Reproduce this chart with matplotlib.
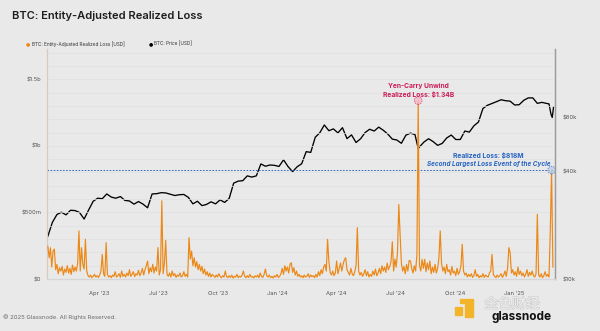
import numpy as np
import pandas as pd
import matplotlib
matplotlib.use("Agg")
import matplotlib.pyplot as plt
import matplotlib.dates as mdates
import matplotlib.patheffects as pe
from matplotlib.patches import Rectangle
from matplotlib.ticker import FixedLocator, FuncFormatter, NullLocator, MultipleLocator

# ---- data -------------------------------------------------------------
# Entity-adjusted realized loss, USD millions, one value every 2 days
loss_start = "2023-01-11"
loss_musd = [
    245, 160, 235, 90, 210, 225, 70, 110, 40, 85,
    60, 95, 30, 75, 50, 100, 45, 80, 35, 105,
    55, 90, 60, 120, 361, 60, 235, 110, 75, 298,
    60, 25, 15, 30, 10, 20, 35, 15, 25, 12,
    30, 60, 185, 40, 20, 273, 35, 15, 25, 10,
    30, 20, 55, 15, 25, 40, 12, 60, 20, 35,
    15, 45, 25, 70, 20, 35, 55, 18, 40, 30,
    65, 25, 45, 80, 30, 70, 100, 135, 40, 85,
    55, 110, 45, 90, 60, 236, 30, 70, 587, 40,
    120, 290, 35, 20, 45, 15, 60, 25, 40, 12,
    30, 20, 45, 15, 25, 55, 20, 35, 15, 311,
    150, 210, 100, 160, 90, 130, 70, 110, 60, 95,
    40, 75, 30, 55, 20, 45, 15, 35, 25, 12,
    30, 15, 40, 20, 10, 25, 15, 60, 20, 10,
    25, 12, 30, 8, 20, 15, 35, 10, 22, 15,
    30, 60, 20, 10, 25, 12, 35, 15, 20, 8,
    25, 15, 30, 10, 45, 20, 12, 35, 75, 25,
    15, 30, 10, 20, 8, 25, 15, 35, 12, 20,
    40, 80, 35, 100, 60, 90, 45, 110, 123, 50,
    85, 30, 60, 20, 35, 15, 25, 10, 30, 15,
    20, 40, 12, 30, 18, 25, 10, 35, 15, 55,
    25, 70, 40, 90, 110, 60, 298, 135, 50, 30,
    60, 25, 45, 135, 40, 80, 120, 60, 110, 145,
    160, 70, 50, 30, 80, 40, 25, 55, 100, 386,
    60, 30, 50, 20, 40, 70, 25, 55, 15, 35,
    20, 60, 30, 75, 25, 45, 80, 40, 100, 60,
    90, 50, 120, 70, 95, 130, 280, 60, 150, 90,
    200, 560, 336, 120, 60, 95, 40, 110, 60, 140,
    135, 80, 45, 100, 60, 180, 1340, 100, 60, 148,
    80, 148, 55, 120, 70, 135, 40, 90, 50, 110,
    45, 80, 160, 361, 120, 60, 90, 40, 110, 55,
    70, 30, 95, 45, 60, 25, 80, 35, 55, 100,
    261, 60, 30, 45, 15, 35, 20, 40, 12, 25,
    70, 20, 35, 10, 25, 15, 40, 12, 30, 20,
    15, 45, 60, 185, 35, 20, 10, 30, 15, 25,
    40, 12, 30, 60, 20, 80, 236, 198, 45, 70,
    30, 55, 20, 90, 35, 60, 25, 45, 15, 35,
    70, 20, 50, 30, 60, 25, 15, 40, 486, 30,
    15, 40, 10, 25, 55, 20, 35, 15, 360, 818,
    90,
]

# BTC price, USD thousands, weekly from 2023-01-11
price_start = "2023-01-11"
price_weekly_kusd = [
    17.4, 20.8, 23.0, 23.7, 22.9, 24.3, 24.2, 23.6, 21.7, 24.4,
    27.3, 28.4, 28.2, 30.0, 28.8, 28.4, 29.0, 27.6, 27.4, 26.3,
    27.2, 26.3, 25.1, 30.0, 30.1, 30.5, 30.4, 29.9, 29.4, 29.7,
    29.8, 28.7, 26.4, 27.3, 25.8, 26.2, 27.1, 26.4, 27.8, 26.9,
    28.3, 34.5, 35.4, 35.6, 37.9, 37.3, 37.9, 44.2, 42.9, 43.6,
    43.4, 42.8, 46.6, 42.7, 40.0, 42.6, 44.3, 51.8, 51.3, 62.4,
    66.1, 73.1, 67.9, 69.5, 66.0, 70.6, 61.3, 64.3, 58.3, 61.2,
    66.3, 69.2, 67.6, 71.1, 68.3, 65.0, 60.9, 60.2, 57.7, 64.1,
    65.8, 64.6, 55.1, 58.7, 61.2, 59.0, 56.2, 57.6, 61.8, 64.2,
    60.6, 60.6, 67.6, 66.7, 72.3, 75.9, 90.5, 94.3, 96.5, 98.8,
    101.2, 100.0, 99.4, 94.6, 95.0, 100.5, 103.7, 103.7, 96.6, 97.9,
    96.6, 84.3,
]
price_extra_dates = ["2024-08-05", "2025-02-23", "2025-02-28", "2025-03-02"]
price_extra_kusd = [54.0, 96.0, 80.5, 92.0]

x_tick_dates = ["2023-04-01", "2023-07-01", "2023-10-01", "2024-01-01",
                "2024-04-01", "2024-07-01", "2024-10-01", "2025-01-01"]
x_tick_labels = ["Apr '23", "Jul '23", "Oct '23", "Jan '24",
                 "Apr '24", "Jul '24", "Oct '24", "Jan '25"]
loss_ticks = [0, 500, 1000, 1500]
loss_tick_labels = ["$0", "$500m", "$1b", "$1.5b"]
price_ticks = [10, 40, 80]
price_tick_labels = ["$10k", "$40k", "$80k"]

# ---- series -----------------------------------------------------------
loss = pd.Series(loss_musd,
                 index=pd.date_range(loss_start, periods=len(loss_musd), freq="2D"))
price = pd.concat([
    pd.Series(price_weekly_kusd,
              index=pd.date_range(price_start, periods=len(price_weekly_kusd), freq="7D")),
    pd.Series(price_extra_kusd, index=pd.to_datetime(price_extra_dates)),
]).sort_index()

# ---- style ------------------------------------------------------------
BG = "#e9e9e9"
ORANGE = "#ec8816"
BLUE = "#2463c2"
CRIMSON = "#cc1d57"
TXT = "#555555"
plt.rcParams["font.family"] = ["Inter", "DejaVu Sans"]

fig = plt.figure(figsize=(6.0, 3.31), dpi=100, facecolor=BG)
ax2 = fig.add_axes([0.0787, 0.157, 0.846, 0.695])   # price (log, right)
ax = ax2.twinx()                                      # loss (linear, left)
ax.yaxis.tick_left()
ax.yaxis.set_label_position("left")
ax2.yaxis.tick_right()
ax2.set_facecolor(BG)
ax.patch.set_visible(False)

# price
ax2.plot(price.index, price.values, color="black", lw=0.95, zorder=3)
ax2.set_yscale("log")
ax2.set_ylim(10, 195)
ax2.yaxis.set_major_locator(FixedLocator(price_ticks))
ax2.yaxis.set_major_formatter(FuncFormatter(
    lambda v, p: dict(zip(price_ticks, price_tick_labels)).get(round(v), "")))
ax2.yaxis.set_minor_locator(NullLocator())

# loss
ax.plot(loss.index, loss.values, color=ORANGE, lw=0.85, zorder=3)
ax.set_ylim(0, 1727)
ax.yaxis.set_major_locator(FixedLocator(loss_ticks))
ax.yaxis.set_major_formatter(FuncFormatter(
    lambda v, p: dict(zip(loss_ticks, loss_tick_labels)).get(round(v), "")))
ax.yaxis.set_minor_locator(MultipleLocator(100))
ax.grid(True, which="both", axis="y", color="#e0e0e0", lw=0.5, zorder=0)

xmin, xmax = pd.Timestamp("2023-01-10"), pd.Timestamp("2025-03-04")
for a in (ax, ax2):
    a.set_xlim(xmin, xmax)
    a.tick_params(axis="both", which="both", length=0, labelsize=4.2,
                  labelcolor=TXT)
ax.tick_params(axis="y", pad=4.3)
ax2.tick_params(axis="y", pad=5.5)
ax2.xaxis.set_major_locator(FixedLocator(mdates.date2num(pd.to_datetime(x_tick_dates))))
ax2.set_xticklabels(x_tick_labels)
ax2.tick_params(axis="x", pad=8.5)
ax.xaxis.set_visible(False)

for a in (ax, ax2):
    a.spines["top"].set_visible(False)
    a.spines["left"].set_color("#d6cbbf")
    a.spines["left"].set_linewidth(0.8)
    a.spines["right"].set_color("#9c9c9c")
    a.spines["right"].set_linewidth(0.9)
    a.spines["bottom"].set_color("#d6d6d6")
    a.spines["bottom"].set_linewidth(0.8)

# reference level at the second largest loss
peak_date = loss.idxmax()
peak_val = loss.max()
second = loss.drop(peak_date)
second_date = second.idxmax()
second_val = second.max()
ax.axhline(second_val, color=BLUE, lw=0.7, ls=(0, (1.6, 1.6)), zorder=2)

# highlighted events
ax.scatter([peak_date], [peak_val], s=30, facecolors="#f3b7c7", edgecolors=CRIMSON,
           linewidths=0.6, linestyles=(0, (1.5, 1.2)), alpha=0.75, zorder=5)
ax.scatter([second_date], [second_val], s=30, facecolors="#b9cdea", edgecolors=BLUE,
           linewidths=0.6, linestyles=(0, (1.5, 1.2)), alpha=0.75, zorder=5)

ax.annotate("Yen-Carry Unwind", xy=(peak_date, peak_val), xytext=(0, 10.8),
            textcoords="offset points", ha="center", va="center",
            fontsize=4.8, fontweight="bold", color=CRIMSON, zorder=6)
ax.annotate(f"Realized Loss: ${peak_val / 1000:.2f}B", xy=(peak_date, peak_val),
            xytext=(0, 4.6), textcoords="offset points", ha="center", va="center",
            fontsize=4.8, fontweight="bold", color=CRIMSON, zorder=6)
ax.annotate(f"Realized Loss: ${second_val:.0f}M", xy=(second_date, second_val),
            xytext=(-45.5, 10.2), textcoords="offset points", ha="center", va="center",
            fontsize=4.8, fontweight="bold", color=BLUE, zorder=6)
ax.annotate("Second Largest Loss Event of the Cycle", xy=(second_date, second_val),
            xytext=(-45.5, 4.3), textcoords="offset points", ha="center", va="center",
            fontsize=4.6, fontweight="bold", fontstyle="italic", color=BLUE, zorder=6)

# title and legend
fig.text(12 / 600, 1 - 15.7 / 331, "BTC: Entity-Adjusted Realized Loss",
         fontsize=8, fontweight="semibold", color="#1e1e1e", va="center", ha="left")
fig.text(28 / 600, 1 - 43.7 / 331, "●", fontsize=3.5, color=ORANGE,
         ha="center", va="center", family="DejaVu Sans")
fig.text(31.5 / 600, 1 - 43.7 / 331, "BTC: Entity-Adjusted Realized Loss [USD]",
         fontsize=3.4, color="#333333", ha="left", va="center")
fig.text(150.7 / 600, 1 - 43.7 / 331, "●", fontsize=3.5, color="black",
         ha="center", va="center", family="DejaVu Sans")
fig.text(154.5 / 600, 1 - 43.7 / 331, "BTC: Price [USD]",
         fontsize=3.4, color="#333333", ha="left", va="center")

# footer
fig.text(3 / 600, 1 - 317 / 331, "© 2025 Glassnode. All Rights Reserved.",
         fontsize=4.3, color="#6a6a6a", ha="left", va="center")
logo_y = "#f2b52a"
fig.patches.append(Rectangle((455 / 600, 1 - 315 / 331), 7 / 600, 8 / 331,
                             transform=fig.transFigure, color=logo_y))
fig.patches.append(Rectangle((465 / 600, 1 - 317 / 331), 8 / 600, 18 / 331,
                             transform=fig.transFigure, color=logo_y))
fig.patches.append(Rectangle((460 / 600, 1 - 303 / 331), 5 / 600, 4 / 331,
                             transform=fig.transFigure, color=logo_y))
fig.text(522 / 600, 1 - 317 / 331, "glassnode", fontsize=8.5, fontweight="bold",
         color="#111111", ha="center", va="center")
fig.text(512 / 600, 1 - 304 / 331, "金色财经", fontsize=10, color="#f6f6f6",
         alpha=0.85, ha="center", va="center",
         family=["Noto Sans CJK SC", "DejaVu Sans"],
         path_effects=[pe.withStroke(linewidth=0.8, foreground="#c4c4c4")])

fig.savefig("out.png", dpi=100, facecolor=BG)
